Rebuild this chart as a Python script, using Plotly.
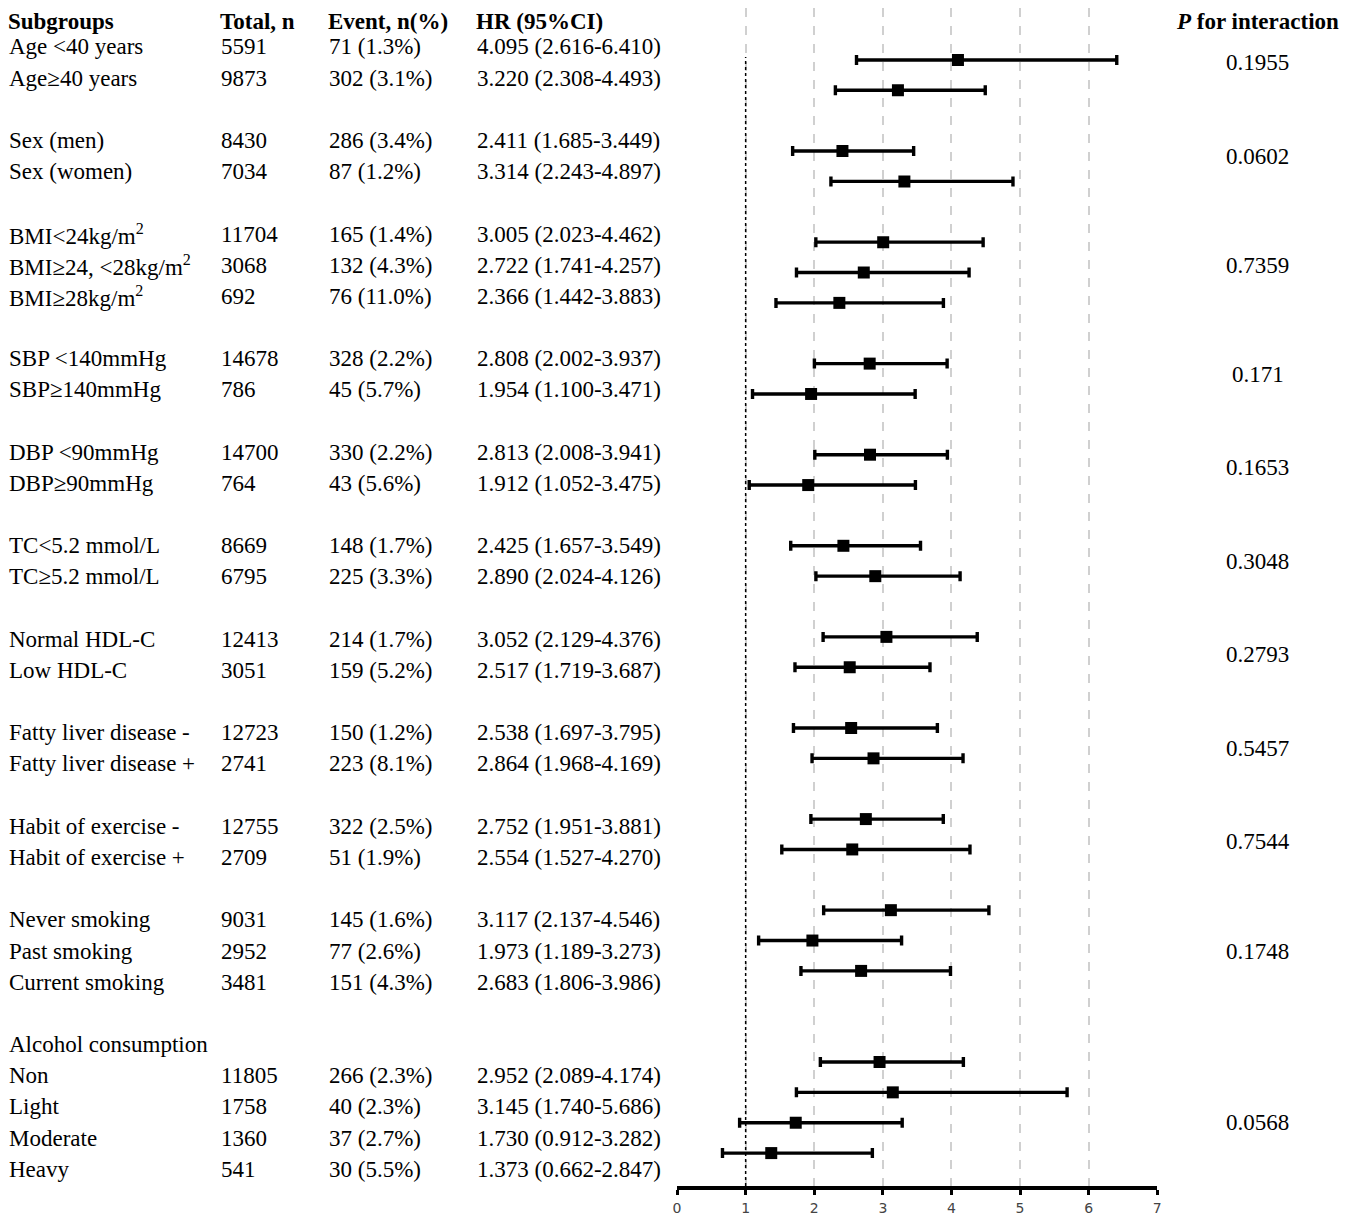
import plotly.graph_objects as go

# ---- data ----
subgroups = ["Age &lt;40 years", "Age≥40 years", "Sex (men)", "Sex (women)",
             "BMI&lt;24kg/m<sup>2</sup>", "BMI≥24, &lt;28kg/m<sup>2</sup>", "BMI≥28kg/m<sup>2</sup>",
             "SBP &lt;140mmHg", "SBP≥140mmHg", "DBP &lt;90mmHg", "DBP≥90mmHg",
             "TC&lt;5.2 mmol/L", "TC≥5.2 mmol/L", "Normal HDL-C", "Low HDL-C",
             "Fatty liver disease -", "Fatty liver disease +",
             "Habit of exercise -", "Habit of exercise +",
             "Never smoking", "Past smoking", "Current smoking",
             "Non", "Light", "Moderate", "Heavy"]
group_sizes = [2, 2, 3, 2, 2, 2, 2, 2, 2, 3, 4]
last_group_title = "Alcohol consumption"
totals = [5591, 9873, 8430, 7034, 11704, 3068, 692, 14678, 786, 14700, 764, 8669, 6795,
          12413, 3051, 12723, 2741, 12755, 2709, 9031, 2952, 3481, 11805, 1758, 1360, 541]
events = [71, 302, 286, 87, 165, 132, 76, 328, 45, 330, 43, 148, 225,
          214, 159, 150, 223, 322, 51, 145, 77, 151, 266, 40, 37, 30]
event_pct = [1.3, 3.1, 3.4, 1.2, 1.4, 4.3, 11.0, 2.2, 5.7, 2.2, 5.6, 1.7, 3.3,
             1.7, 5.2, 1.2, 8.1, 2.5, 1.9, 1.6, 2.6, 4.3, 2.3, 2.3, 2.7, 5.5]
hr = [4.095, 3.220, 2.411, 3.314, 3.005, 2.722, 2.366, 2.808, 1.954, 2.813, 1.912, 2.425, 2.890,
      3.052, 2.517, 2.538, 2.864, 2.752, 2.554, 3.117, 1.973, 2.683, 2.952, 3.145, 1.730, 1.373]
hr_low = [2.616, 2.308, 1.685, 2.243, 2.023, 1.741, 1.442, 2.002, 1.100, 2.008, 1.052, 1.657, 2.024,
          2.129, 1.719, 1.697, 1.968, 1.951, 1.527, 2.137, 1.189, 1.806, 2.089, 1.740, 0.912, 0.662]
hr_high = [6.410, 4.493, 3.449, 4.897, 4.462, 4.257, 3.883, 3.937, 3.471, 3.941, 3.475, 3.549, 4.126,
           4.376, 3.687, 3.795, 4.169, 3.881, 4.270, 4.546, 3.273, 3.986, 4.174, 5.686, 3.282, 2.847]
p_interaction = ["0.1955", "0.0602", "0.7359", "0.171", "0.1653", "0.3048",
                 "0.2793", "0.5457", "0.7544", "0.1748", "0.0568"]
headers = ["Subgroups", "Total, n", "Event, n(%)", "HR (95%CI)"]

# ---- row slots (one blank slot between groups) ----
slots, group_mid, k = [], [], 0
title_slot = None
for gi, n in enumerate(group_sizes):
    if gi == len(group_sizes) - 1:
        title_slot = k
        k += 1
    s = list(range(k, k + n))
    slots += s
    group_mid.append(sum(s) / n)
    k += n + 1

# page body has an 8px margin, so lay everything out in page pixels minus that
OFF = 8
W, H = 1368 - OFF, 1216 - OFF
axis_px = 1187 - OFF
text_top, text_step = 47 - OFF, 31.2
mark_top, mark_step = 60 - OFF, 30.39
dom_bottom = 1 - axis_px / H
px = lambda v: (v - OFF) / W

font = "Liberation Serif, Times New Roman, serif"
col_x = [3, 216, 325, 474]

fig = go.Figure()
fig.add_trace(go.Scatter(
    x=hr, y=slots, yaxis="y2", mode="markers",
    marker=dict(symbol="square", size=12, color="black"),
    error_x=dict(type="data", symmetric=False,
                 array=[h - m for h, m in zip(hr_high, hr)],
                 arrayminus=[m - l for m, l in zip(hr, hr_low)],
                 color="black", thickness=3.4, width=5),
    showlegend=False, hoverinfo="skip"))

ann = []
# header row hangs from the top edge of the page
for i, txt in enumerate(headers):
    ann.append(dict(x=px(col_x[i]), y=1, yref="paper", yanchor="top", borderpad=0,
                    text="<b>%s</b>" % txt))
ann.append(dict(x=px(1261), y=1, yref="paper", yanchor="top", borderpad=0,
                text="<b><i>P</i> for interaction</b>", xanchor="center"))
for i, sg in enumerate(subgroups):
    s = slots[i]
    ann.append(dict(x=px(col_x[0]), y=s, text=sg))
    ann.append(dict(x=px(col_x[1]), y=s, text=str(totals[i])))
    ann.append(dict(x=px(col_x[2]), y=s, text="%d (%.1f%%)" % (events[i], event_pct[i])))
    ann.append(dict(x=px(col_x[3]), y=s, text="%.3f (%.3f-%.3f)" % (hr[i], hr_low[i], hr_high[i])))
ann.append(dict(x=px(col_x[0]), y=title_slot, text=last_group_title))
for p, m in zip(p_interaction, group_mid):
    ann.append(dict(x=px(1261), y=m, text=p, xanchor="center"))
for a in ann:
    a.setdefault("xanchor", "left")
    a.setdefault("yref", "y")
    a.setdefault("yanchor", "middle")
    a.update(xref="paper", showarrow=False,
             font=dict(family=font, size=23, color="black"))

fig.update_layout(
    width=W, height=H, margin=dict(l=0, r=0, t=0, b=0),
    paper_bgcolor="white", plot_bgcolor="white",
    annotations=ann,
    shapes=[dict(type="line", xref="x", yref="paper", x0=1, x1=1,
                 y0=dom_bottom, y1=1 - (57 - OFF) / H,
                 line=dict(color="black", width=1.5, dash="dot"))],
    xaxis=dict(domain=[px(677), px(1160)], range=[0, 7], dtick=1, anchor="y",
               showgrid=True, gridcolor="#d0d0d0", griddash="dash", gridwidth=1.5,
               zeroline=False, showline=True, linecolor="black", linewidth=4,
               ticks="outside", ticklen=5, tickwidth=3, tickcolor="black",
               ticklabelstandoff=1,
               tickfont=dict(family="DejaVu Sans", size=14, color="#444")),
    yaxis=dict(domain=[dom_bottom, 1], visible=False,
               range=[(axis_px - text_top) / text_step, -text_top / text_step]),
    yaxis2=dict(domain=[dom_bottom, 1], visible=False, overlaying="y",
                range=[(axis_px - mark_top) / mark_step, -mark_top / mark_step]),
)

fig.write_html("out.html")
